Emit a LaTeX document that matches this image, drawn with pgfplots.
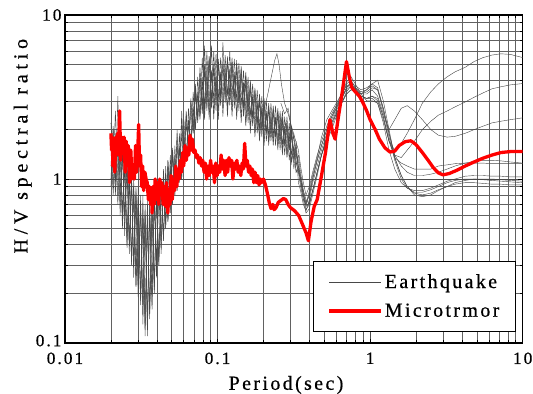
\documentclass[border=0pt]{standalone}
\usepackage{fontspec}
\setmainfont{Liberation Serif}[LetterSpace=12, FakeBold=0.6]
\usepackage{pgfplots}
\usepackage{pgfplotstable}
\pgfplotsset{compat=1.18}

\pgfplotstableread{
x e1 e2 e3 e4 e5 e6
0.0200 2.2 1.0 1.8 0.9 1.6 1.2
0.0207 1.1 2.0 0.9 1.7 0.8 2.1
0.0214 2.6 0.9 1.9 0.8 1.5 1.0
0.0222 1.0 3.2 0.8 1.6 0.7 1.9
0.0230 1.9 0.8 1.5 0.6 1.4 0.7
0.0238 0.6 1.6 0.6 1.5 0.5 1.5
0.0246 1.5 0.6 1.3 0.45 1.2 0.55
0.0255 0.45 1.3 0.4 1.3 0.38 1.2
0.0264 1.2 0.4 1.1 0.35 1.0 0.4
0.0273 0.33 1.1 0.3 1.0 0.3 1.0
0.0282 1.0 0.3 0.9 0.25 0.85 0.3
0.0292 0.25 0.9 0.22 0.85 0.22 0.8
0.0302 0.9 0.2 0.75 0.19 0.7 0.22
0.0313 0.19 0.8 0.18 0.7 0.17 0.7
0.0324 0.8 0.15 0.65 0.13 0.6 0.17
0.0335 0.13 0.7 0.11 0.6 0.12 0.65
0.0347 0.75 0.12 0.6 0.11 0.55 0.14
0.0359 0.15 0.7 0.14 0.65 0.15 0.7
0.0372 0.8 0.16 0.7 0.17 0.6 0.2
0.0385 0.22 0.8 0.2 0.75 0.21 0.85
0.0398 0.9 0.25 0.8 0.28 0.75 0.3
0.0412 0.3 0.95 0.3 0.9 0.32 1.0
0.0427 1.0 0.35 0.9 0.38 0.85 0.42
0.0442 0.42 1.1 0.42 1.0 0.45 1.15
0.0457 1.2 0.5 1.05 0.5 1.0 0.55
0.0473 0.55 1.3 0.55 1.2 0.58 1.3
0.0490 1.4 0.62 1.2 0.65 1.15 0.7
0.0507 0.7 1.5 0.7 1.4 0.75 1.55
0.0525 1.6 0.8 1.4 0.8 1.3 0.85
0.0543 0.85 1.8 0.85 1.6 0.9 2.0
0.0562 1.9 0.95 1.6 1.0 1.5 1.05
0.0582 1.0 2.6 1.0 1.9 1.1 2.3
0.0602 2.3 1.2 1.9 1.2 1.8 1.3
0.0623 1.3 2.5 1.3 2.2 1.35 2.6
0.0645 2.7 1.5 2.3 1.5 2.1 1.6
0.0668 1.6 3.0 1.6 2.6 1.7 3.1
0.0692 3.4 1.9 2.8 1.9 2.6 2.0
0.0716 2.0 3.8 2.0 3.3 2.1 3.6
0.0741 4.2 2.3 3.4 2.2 3.2 2.4
0.0767 2.4 4.8 2.3 4.0 2.5 4.4
0.0794 5.5 2.6 4.2 2.5 3.8 2.8
0.0822 2.7 6.5 2.3 4.6 2.6 5.0
0.0851 6.0 2.8 4.8 2.6 4.3 3.0
0.0881 2.8 5.6 2.3 5.2 2.5 5.6
0.0912 6.5 2.9 4.5 2.7 4.6 3.0
0.0944 2.9 5.0 2.3 4.8 2.5 6.0
0.0977 5.8 3.0 4.6 2.6 4.2 3.1
0.1012 3.0 5.4 2.3 5.0 2.6 5.2
0.1047 5.5 3.1 4.4 2.8 4.5 3.2
0.1084 3.1 6.8 2.4 5.2 2.7 5.0
0.1122 5.7 3.2 4.9 2.9 4.4 3.3
0.1161 3.2 5.6 2.4 5.4 2.7 5.3
0.1202 6.0 3.2 4.7 2.8 4.6 3.2
0.1244 3.1 5.2 2.4 5.0 2.6 5.5
0.1288 5.4 3.1 4.5 2.7 4.3 3.1
0.1334 3.0 5.3 2.3 4.7 2.5 5.0
0.1380 5.1 2.9 4.2 2.6 4.0 2.9
0.1429 2.8 4.9 2.2 4.4 2.4 4.7
0.1479 4.6 2.7 3.9 2.4 3.7 2.7
0.1531 2.6 4.5 2.1 4.0 2.2 4.3
0.1585 4.2 2.5 3.6 2.2 3.4 2.5
0.1641 2.4 4.0 1.9 3.6 2.1 3.9
0.1698 3.8 2.3 3.3 2.1 3.1 2.4
0.1758 2.2 3.6 1.8 3.3 1.9 3.5
0.1820 3.5 2.1 3.0 1.9 2.9 2.2
0.1884 2.0 3.3 1.7 3.0 1.8 3.2
0.1950 3.2 2.0 2.8 1.8 2.7 2.0
0.2018 1.9 3.1 1.6 2.8 1.7 3.0
0.2089 3.0 1.9 2.6 1.7 2.5 1.9
0.2163 1.8 2.9 1.6 2.7 1.7 2.8
0.2239 2.9 1.8 2.5 1.7 2.4 1.9
0.2317 1.8 2.8 1.6 2.6 1.7 2.7
0.2399 2.8 1.8 2.4 1.6 2.3 1.8
0.2483 1.7 2.7 1.5 2.5 1.6 2.6
0.2570 2.6 1.7 2.3 1.5 2.2 1.7
0.2661 1.6 2.6 1.4 2.3 1.5 2.4
0.2754 2.4 1.6 2.1 1.4 2.0 1.6
0.2851 1.5 2.4 1.35 2.1 1.4 2.2
0.2951 2.2 1.5 1.9 1.3 1.8 1.5
0.3055 1.4 2.1 1.25 1.9 1.3 2.0
0.3162 1.9 1.3 1.6 1.15 1.55 1.3
0.3273 1.2 1.7 1.1 1.5 1.1 1.6
0.3388 1.4 1.1 1.2 0.95 1.15 1.1
}\eqnoisy

\pgfplotstableread{
x e1 e2 e3 e4 e5 e6 e7 e8 e9
0.3388 1.4 1.1 1.2 0.95 1.15 1.1 1.5 1.3 1.2
0.350 1.1 1.0 0.95 0.85 1.0 0.9 1.2 1.0 1.05
0.365 0.85 0.8 0.75 0.7 0.8 0.75 0.95 0.8 0.85
0.380 0.7 0.65 0.62 0.64 0.68 0.7 0.8 0.72 0.75
0.400 0.8 0.7 0.66 0.75 0.72 0.85 0.9 0.8 0.7
0.420 1.0 0.85 0.8 0.95 0.85 1.05 1.1 1.0 0.85
0.450 1.3 1.1 1.05 1.2 1.1 1.35 1.4 1.3 1.1
0.480 1.6 1.4 1.4 1.5 1.4 1.8 1.7 1.6 1.4
0.520 2.0 1.8 1.8 1.9 1.7 2.3 2.1 2.0 1.8
0.560 2.4 2.2 2.2 2.3 2.0 2.6 2.5 2.4 2.1
0.600 2.8 2.6 2.5 2.7 2.4 2.9 2.8 2.7 2.5
0.650 3.3 3.1 2.9 3.2 2.9 3.3 3.1 3.1 2.9
0.700 3.9 3.6 3.3 3.8 3.4 3.7 3.5 3.6 3.3
0.750 4.2 3.8 3.5 4.0 3.7 3.8 3.7 3.9 3.5
0.800 3.8 3.6 3.4 3.6 3.6 3.5 3.5 3.7 3.4
0.870 3.3 3.3 3.2 3.2 3.4 3.2 3.3 3.5 3.3
0.950 3.0 3.3 3.1 3.1 3.5 3.1 3.4 3.6 3.5
1.030 3.0 3.5 3.2 3.2 3.7 3.1 3.6 3.8 3.8
1.120 2.9 3.2 3.0 3.1 3.5 2.9 3.5 3.6 4.0
1.220 2.3 2.5 2.4 2.4 2.6 2.2 2.7 2.7 3.0
1.330 1.7 2.0 1.7 1.7 1.8 1.5 1.9 1.9 2.0
1.450 1.5 2.3 1.4 1.35 1.3 1.15 1.35 1.4 1.35
1.600 1.65 2.7 1.35 1.25 1.0 0.95 1.05 1.2 1.05
1.750 1.9 2.8 1.5 1.2 0.88 0.88 0.9 1.1 0.9
1.950 2.3 2.6 1.7 1.15 0.83 0.85 0.82 1.05 0.8
2.200 2.9 2.3 2.0 1.15 0.83 0.85 0.8 1.05 0.78
2.500 3.4 2.0 2.25 1.15 0.86 0.88 0.82 1.07 0.8
2.800 3.8 1.85 2.45 1.2 0.9 0.92 0.86 1.1 0.85
3.200 4.2 1.8 2.6 1.22 0.95 0.97 0.9 1.15 0.9
3.600 4.5 1.82 2.75 1.24 0.98 1.0 0.93 1.2 0.95
4.200 4.8 1.9 2.95 1.25 1.0 1.04 0.95 1.25 0.98
4.800 5.2 2.0 3.15 1.25 1.0 1.05 0.95 1.28 1.0
5.500 5.5 2.1 3.35 1.25 0.99 1.05 0.94 1.3 1.0
6.300 5.7 2.2 3.55 1.24 0.98 1.04 0.93 1.3 1.0
7.200 5.8 2.25 3.65 1.24 0.97 1.04 0.93 1.29 0.99
8.300 5.75 2.3 3.75 1.24 0.96 1.03 0.92 1.27 0.98
10.00 5.5 2.36 3.82 1.24 0.95 1.03 0.92 1.25 0.97
}\eqsmooth

\pgfplotstableread{
x y
0.0200 1.9
0.0202 1.5
0.0204 1.8
0.0206 1.2
0.0209 1.7
0.0212 1.1
0.0215 1.8
0.0218 1.5
0.0221 1.9
0.0224 1.4
0.0228 2.6
0.0232 1.3
0.0236 1.8
0.0240 1.7
0.0244 1.8
0.0248 1.1
0.0252 1.7
0.0256 1.3
0.0260 1.6
0.0265 0.95
0.0270 1.5
0.0275 1.0
0.0280 1.2
0.0285 1.0
0.0290 1.6
0.0295 1.1
0.0300 1.5
0.0304 2.15
0.0308 1.2
0.0313 1.4
0.0318 0.9
0.0323 1.2
0.0328 0.85
0.0334 1.1
0.0340 1.0
0.0346 0.95
0.0352 0.75
0.0358 0.9
0.0364 0.7
0.0370 0.85
0.0372 0.62
0.0378 0.9
0.0384 0.7
0.0390 1.0
0.0397 0.75
0.0404 0.95
0.0411 0.7
0.0418 1.0
0.0425 0.8
0.0432 0.95
0.0440 0.7
0.0448 0.9
0.0456 0.68
0.0464 0.95
0.0472 0.62
0.0480 0.85
0.0488 0.7
0.0496 1.05
0.0505 0.75
0.0514 1.0
0.0523 0.85
0.0532 1.2
0.0541 0.9
0.0550 1.15
0.0560 1.0
0.0570 1.3
0.0580 1.1
0.0590 1.45
0.0600 1.2
0.0612 1.6
0.0624 1.3
0.0636 1.55
0.0648 1.4
0.0660 1.85
0.0672 1.5
0.0685 1.75
0.0698 1.45
0.0712 1.5
0.0726 1.35
0.0740 1.4
0.0755 1.25
0.0770 1.35
0.0785 1.2
0.0800 1.3
0.0816 1.1
0.0832 1.25
0.0848 1.0
0.0865 1.2
0.0882 1.05
0.0900 1.3
0.0918 1.1
0.0936 1.2
0.0955 0.95
0.0974 1.25
0.0994 1.05
0.1014 1.2
0.1034 1.1
0.1055 1.4
0.1076 1.15
0.1098 1.3
0.1120 1.05
0.1142 1.3
0.1165 1.1
0.1188 1.35
0.1212 1.2
0.1236 1.3
0.1261 1.0
0.1286 1.25
0.1312 1.15
0.1338 1.3
0.1365 1.1
0.1392 1.2
0.1420 1.05
0.1448 1.25
0.1477 1.15
0.1506 1.65
0.1536 1.2
0.1566 1.3
0.1597 1.1
0.1629 1.2
0.1661 1.05
0.1694 1.15
0.1728 0.95
0.1762 1.1
0.1797 0.95
0.1833 1.05
0.1870 0.92
0.1907 1.0
0.1945 0.95
0.2000 1.0
0.2060 0.92
0.2120 0.82
0.2180 0.72
0.2240 0.66
0.2300 0.70
0.2350 0.65
0.2420 0.67
0.2500 0.72
0.2600 0.74
0.2700 0.76
0.2800 0.75
0.2900 0.70
0.3000 0.67
0.3200 0.64
0.3400 0.60
0.3600 0.53
0.3800 0.47
0.3940 0.42
0.4100 0.55
0.4300 0.68
0.4500 0.75
0.4800 1.05
0.5100 1.45
0.5450 2.3
0.5700 1.9
0.5900 1.75
0.6200 2.4
0.6600 3.5
0.7000 5.2
0.7300 4.2
0.7600 3.6
0.8000 3.4
0.8500 3.2
0.9000 2.9
0.9500 2.6
1.0000 2.3
1.0800 2.0
1.1500 1.75
1.2500 1.55
1.3500 1.46
1.4500 1.48
1.5500 1.6
1.7000 1.69
1.8500 1.71
2.0000 1.62
2.2000 1.45
2.4000 1.3
2.6000 1.17
2.8000 1.09
3.0000 1.06
3.3000 1.08
3.7000 1.13
4.2000 1.2
4.8000 1.27
5.5000 1.34
6.3000 1.4
7.2000 1.45
8.3000 1.47
10.000 1.47
}\micro

\pgfplotsset{
  eq/.style={black!72, line width=0.42pt, forget plot},
  mt/.style={red, line width=3.3bp, line join=round},
}

\begin{document}
\begin{tikzpicture}
\begin{axis}[
  at={(0,0)}, anchor=south west,
  width=457.7bp, height=328bp, scale only axis,
  xmode=log, ymode=log,
  xmin=0.01, xmax=10, ymin=0.1, ymax=10,
  xtick={0.01,0.1,1,10}, xticklabels={0.01,0.1,1,10},
  ytick={0.1,1,10}, yticklabels={\raisebox{5bp}{0.1},1,10},
  minor xtick={0.02,0.03,0.04,0.05,0.06,0.07,0.08,0.09,0.2,0.3,0.4,0.5,0.6,0.7,0.8,0.9,2,3,4,5,6,7,8,9},
  minor ytick={0.2,0.3,0.4,0.5,0.6,0.7,0.8,0.9,2,3,4,5,6,7,8,9},
  grid=both,
  major grid style={black!70, line width=0.5pt},
  minor grid style={black!62, line width=0.5pt},
  axis line style={line width=1.2pt},
  tick style={black, line width=0.5pt},
  /pgf/number format/assume math mode=true,
  tick label style={font=\fontsize{17.3}{20}\selectfont},
  xticklabel style={yshift=-6bp},
  label style={font=\fontsize{20}{24}\selectfont},
  xlabel={Period(sec)},
  ylabel={\addfontfeatures{LetterSpace=24}H/V spectral ratio},
  xlabel style={at={(axis description cs:0.483,-0.128)}, anchor=center},
  ylabel style={at={(axis description cs:-0.0925,0.6)}, anchor=center},
  legend style={at={(axis description cs:0.985,0.0345)}, anchor=south east,
    draw=black, line width=1pt, fill=white,
    font=\fontsize{20}{24}\selectfont,
    inner xsep=14bp, inner ysep=11bp, row sep=10bp},
  legend cell align=left,
  legend image code/.code={\draw[#1] (0bp,0bp) -- (52bp,0bp);},
]
\addlegendimage{black!72, line width=0.6pt}
\addlegendentry{Earthquake}
\addlegendimage{red, line width=3.3bp}
\addlegendentry{Microtrmor}

\addplot[eq] table[x index=0, y index=1] {\eqnoisy};
\addplot[eq] table[x index=0, y index=2] {\eqnoisy};
\addplot[eq] table[x index=0, y index=3] {\eqnoisy};
\addplot[eq] table[x index=0, y index=4] {\eqnoisy};
\addplot[eq] table[x index=0, y index=5] {\eqnoisy};
\addplot[eq] table[x index=0, y index=6] {\eqnoisy};
\addplot[eq] table[x index=0, y index=1] {\eqsmooth};
\addplot[eq] table[x index=0, y index=2] {\eqsmooth};
\addplot[eq] table[x index=0, y index=3] {\eqsmooth};
\addplot[eq] table[x index=0, y index=4] {\eqsmooth};
\addplot[eq] table[x index=0, y index=5] {\eqsmooth};
\addplot[eq] table[x index=0, y index=6] {\eqsmooth};
\addplot[eq] table[x index=0, y index=7] {\eqsmooth};
\addplot[eq] table[x index=0, y index=8] {\eqsmooth};
\addplot[eq] table[x index=0, y index=9] {\eqsmooth};
\addplot[eq] coordinates {(0.120,3.0) (0.130,4.2) (0.140,3.1) (0.150,3.8) (0.160,2.8) (0.170,2.4) (0.185,2.2) (0.200,2.6) (0.212,3.2) (0.225,4.2) (0.237,5.3) (0.245,5.8) (0.253,5.0) (0.262,3.8) (0.275,2.9) (0.290,2.5) (0.305,2.1) (0.320,1.8) (0.3388,1.5)};
\addplot[eq] coordinates {(0.250,1.8) (0.260,2.4) (0.270,1.9) (0.280,2.2) (0.290,1.7) (0.300,2.0) (0.310,1.6) (0.320,1.5) (0.3388,1.3)};
\addplot[eq] coordinates {(0.260,2.9) (0.275,2.5) (0.290,2.7) (0.300,2.2) (0.315,1.8) (0.3388,1.2)};

\addplot[mt, forget plot] table[x=x, y=y] {\micro};
\end{axis}
\pgfresetboundingbox
\useasboundingbox (-65bp,-51bp) rectangle (468bp,343bp);
\end{tikzpicture}
\end{document}
